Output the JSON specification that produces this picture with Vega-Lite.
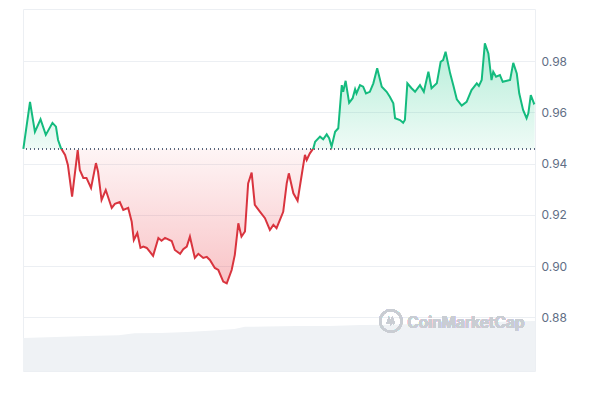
{
  "$schema": "https://vega.github.io/schema/vega-lite/v6.json",
  "width": 512,
  "height": 362,
  "autosize": {"type": "none"},
  "padding": {"left": 23, "top": 9, "right": 65, "bottom": 29},
  "background": "white",
  "config": {
    "view": {"stroke": "#eceff3", "strokeWidth": 1},
    "font": "Inter"
  },
  "datasets": {
    "price": [
      {"t": "2024-05-14T12:58", "p": 0.9457},
      {"t": "2024-05-14T13:17", "p": 0.9641},
      {"t": "2024-05-14T13:31", "p": 0.9524},
      {"t": "2024-05-14T13:47", "p": 0.9573},
      {"t": "2024-05-14T14:02", "p": 0.9512},
      {"t": "2024-05-14T14:21", "p": 0.9559},
      {"t": "2024-05-14T14:31", "p": 0.9544},
      {"t": "2024-05-14T14:37", "p": 0.9492},
      {"t": "2024-05-14T14:45", "p": 0.9461},
      {"t": "2024-05-14T14:57", "p": 0.9434},
      {"t": "2024-05-14T15:05", "p": 0.9395},
      {"t": "2024-05-14T15:17", "p": 0.9271},
      {"t": "2024-05-14T15:33", "p": 0.9453},
      {"t": "2024-05-14T15:39", "p": 0.9375},
      {"t": "2024-05-14T15:49", "p": 0.9344},
      {"t": "2024-05-14T15:58", "p": 0.9344},
      {"t": "2024-05-14T16:11", "p": 0.9305},
      {"t": "2024-05-14T16:25", "p": 0.9402},
      {"t": "2024-05-14T16:31", "p": 0.9368},
      {"t": "2024-05-14T16:41", "p": 0.9258},
      {"t": "2024-05-14T16:53", "p": 0.9297},
      {"t": "2024-05-14T17:10", "p": 0.9227},
      {"t": "2024-05-14T17:19", "p": 0.9243},
      {"t": "2024-05-14T17:33", "p": 0.9250},
      {"t": "2024-05-14T17:43", "p": 0.9219},
      {"t": "2024-05-14T17:57", "p": 0.9227},
      {"t": "2024-05-14T18:07", "p": 0.9173},
      {"t": "2024-05-14T18:13", "p": 0.9102},
      {"t": "2024-05-14T18:23", "p": 0.9129},
      {"t": "2024-05-14T18:32", "p": 0.9071},
      {"t": "2024-05-14T18:40", "p": 0.9076},
      {"t": "2024-05-14T18:50", "p": 0.9071},
      {"t": "2024-05-14T19:08", "p": 0.9040},
      {"t": "2024-05-14T19:23", "p": 0.9110},
      {"t": "2024-05-14T19:32", "p": 0.9099},
      {"t": "2024-05-14T19:42", "p": 0.9110},
      {"t": "2024-05-14T20:01", "p": 0.9098},
      {"t": "2024-05-14T20:10", "p": 0.9063},
      {"t": "2024-05-14T20:25", "p": 0.9048},
      {"t": "2024-05-14T20:34", "p": 0.9066},
      {"t": "2024-05-14T20:44", "p": 0.9076},
      {"t": "2024-05-14T20:53", "p": 0.9115},
      {"t": "2024-05-14T21:07", "p": 0.9032},
      {"t": "2024-05-14T21:17", "p": 0.9048},
      {"t": "2024-05-14T21:31", "p": 0.9032},
      {"t": "2024-05-14T21:41", "p": 0.9036},
      {"t": "2024-05-14T21:50", "p": 0.9024},
      {"t": "2024-05-14T22:04", "p": 0.8993},
      {"t": "2024-05-14T22:14", "p": 0.8985},
      {"t": "2024-05-14T22:28", "p": 0.8940},
      {"t": "2024-05-14T22:38", "p": 0.8933},
      {"t": "2024-05-14T22:52", "p": 0.8985},
      {"t": "2024-05-14T23:01", "p": 0.9044},
      {"t": "2024-05-14T23:11", "p": 0.9167},
      {"t": "2024-05-14T23:20", "p": 0.9115},
      {"t": "2024-05-14T23:30", "p": 0.9135},
      {"t": "2024-05-14T23:39", "p": 0.9323},
      {"t": "2024-05-14T23:49", "p": 0.9365},
      {"t": "2024-05-14T23:58", "p": 0.9239},
      {"t": "2024-05-15T00:13", "p": 0.9212},
      {"t": "2024-05-15T00:27", "p": 0.9187},
      {"t": "2024-05-15T00:41", "p": 0.9141},
      {"t": "2024-05-15T00:51", "p": 0.9161},
      {"t": "2024-05-15T01:00", "p": 0.9148},
      {"t": "2024-05-15T01:19", "p": 0.9212},
      {"t": "2024-05-15T01:29", "p": 0.9323},
      {"t": "2024-05-15T01:35", "p": 0.9362},
      {"t": "2024-05-15T01:48", "p": 0.9284},
      {"t": "2024-05-15T02:00", "p": 0.9255},
      {"t": "2024-05-15T02:14", "p": 0.9375},
      {"t": "2024-05-15T02:21", "p": 0.9434},
      {"t": "2024-05-15T02:26", "p": 0.9414},
      {"t": "2024-05-15T02:35", "p": 0.9440},
      {"t": "2024-05-15T02:45", "p": 0.9460},
      {"t": "2024-05-15T02:50", "p": 0.9485},
      {"t": "2024-05-15T03:04", "p": 0.9505},
      {"t": "2024-05-15T03:13", "p": 0.9495},
      {"t": "2024-05-15T03:23", "p": 0.9514},
      {"t": "2024-05-15T03:30", "p": 0.9499},
      {"t": "2024-05-15T03:37", "p": 0.9466},
      {"t": "2024-05-15T03:47", "p": 0.9524},
      {"t": "2024-05-15T03:56", "p": 0.9538},
      {"t": "2024-05-15T04:06", "p": 0.9706},
      {"t": "2024-05-15T04:10", "p": 0.9680},
      {"t": "2024-05-15T04:17", "p": 0.9723},
      {"t": "2024-05-15T04:27", "p": 0.9637},
      {"t": "2024-05-15T04:37", "p": 0.9655},
      {"t": "2024-05-15T04:44", "p": 0.9690},
      {"t": "2024-05-15T04:48", "p": 0.9674},
      {"t": "2024-05-15T04:58", "p": 0.9706},
      {"t": "2024-05-15T05:07", "p": 0.9700},
      {"t": "2024-05-15T05:15", "p": 0.9674},
      {"t": "2024-05-15T05:26", "p": 0.9680},
      {"t": "2024-05-15T05:36", "p": 0.9713},
      {"t": "2024-05-15T05:47", "p": 0.9772},
      {"t": "2024-05-15T06:00", "p": 0.9700},
      {"t": "2024-05-15T06:14", "p": 0.9680},
      {"t": "2024-05-15T06:23", "p": 0.9661},
      {"t": "2024-05-15T06:33", "p": 0.9635},
      {"t": "2024-05-15T06:38", "p": 0.9577},
      {"t": "2024-05-15T06:52", "p": 0.9570},
      {"t": "2024-05-15T07:01", "p": 0.9559},
      {"t": "2024-05-15T07:06", "p": 0.9570},
      {"t": "2024-05-15T07:13", "p": 0.9713},
      {"t": "2024-05-15T07:25", "p": 0.9694},
      {"t": "2024-05-15T07:35", "p": 0.9680},
      {"t": "2024-05-15T07:49", "p": 0.9706},
      {"t": "2024-05-15T08:00", "p": 0.9680},
      {"t": "2024-05-15T08:13", "p": 0.9758},
      {"t": "2024-05-15T08:22", "p": 0.9694},
      {"t": "2024-05-15T08:37", "p": 0.9713},
      {"t": "2024-05-15T08:48", "p": 0.9797},
      {"t": "2024-05-15T08:55", "p": 0.9804},
      {"t": "2024-05-15T09:02", "p": 0.9836},
      {"t": "2024-05-15T09:15", "p": 0.9752},
      {"t": "2024-05-15T09:24", "p": 0.9706},
      {"t": "2024-05-15T09:34", "p": 0.9651},
      {"t": "2024-05-15T09:48", "p": 0.9626},
      {"t": "2024-05-15T10:02", "p": 0.9641},
      {"t": "2024-05-15T10:16", "p": 0.9687},
      {"t": "2024-05-15T10:31", "p": 0.9713},
      {"t": "2024-05-15T10:37", "p": 0.9703},
      {"t": "2024-05-15T10:45", "p": 0.9726},
      {"t": "2024-05-15T10:54", "p": 0.9869},
      {"t": "2024-05-15T11:04", "p": 0.9830},
      {"t": "2024-05-15T11:13", "p": 0.9726},
      {"t": "2024-05-15T11:18", "p": 0.9758},
      {"t": "2024-05-15T11:26", "p": 0.9739},
      {"t": "2024-05-15T11:37", "p": 0.9745},
      {"t": "2024-05-15T11:45", "p": 0.9719},
      {"t": "2024-05-15T12:06", "p": 0.9726},
      {"t": "2024-05-15T12:15", "p": 0.9793},
      {"t": "2024-05-15T12:25", "p": 0.9752},
      {"t": "2024-05-15T12:32", "p": 0.9674},
      {"t": "2024-05-15T12:43", "p": 0.9609},
      {"t": "2024-05-15T12:53", "p": 0.9577},
      {"t": "2024-05-15T12:58", "p": 0.9596},
      {"t": "2024-05-15T13:05", "p": 0.9667},
      {"t": "2024-05-15T13:14", "p": 0.9635},
      {"t": "2024-05-15T13:16", "p": 0.9638}
    ],
    "volume": [
      {"t": "2024-05-14T12:57", "v": 9.1},
      {"t": "2024-05-14T14:30", "v": 9.4},
      {"t": "2024-05-14T16:00", "v": 9.7},
      {"t": "2024-05-14T17:30", "v": 9.9},
      {"t": "2024-05-14T18:15", "v": 10.4},
      {"t": "2024-05-14T19:30", "v": 10.5},
      {"t": "2024-05-14T20:45", "v": 10.8},
      {"t": "2024-05-14T22:00", "v": 11.2},
      {"t": "2024-05-14T23:00", "v": 11.6},
      {"t": "2024-05-14T23:30", "v": 12.2},
      {"t": "2024-05-15T00:30", "v": 12.3},
      {"t": "2024-05-15T02:00", "v": 12.4},
      {"t": "2024-05-15T03:30", "v": 12.4},
      {"t": "2024-05-15T05:00", "v": 12.7},
      {"t": "2024-05-15T06:30", "v": 12.8},
      {"t": "2024-05-15T08:00", "v": 13.1},
      {"t": "2024-05-15T09:30", "v": 13.3},
      {"t": "2024-05-15T11:00", "v": 13.5},
      {"t": "2024-05-15T12:00", "v": 13.7},
      {"t": "2024-05-15T13:17", "v": 13.8}
    ]
  },
  "resolve": {"scale": {"y": "independent"}},
  "layer": [
    {
      "data": {"name": "volume"},
      "mark": {"type": "area", "color": "#eff2f5", "interpolate": "linear"},
      "encoding": {
        "x": {
          "field": "t", "type": "temporal",
          "scale": {"domain": [{"year": 2024, "month": 5, "date": 14, "hours": 12, "minutes": 57}, {"year": 2024, "month": 5, "date": 15, "hours": 13, "minutes": 17}]},
          "axis": null
        },
        "y": {"field": "v", "type": "quantitative", "scale": {"domain": [0, 100]}, "axis": null}
      }
    },
    {
      "data": {"name": "price"},
      "encoding": {
        "x": {
          "field": "t", "type": "temporal",
          "scale": {"domain": [{"year": 2024, "month": 5, "date": 14, "hours": 12, "minutes": 57}, {"year": 2024, "month": 5, "date": 15, "hours": 13, "minutes": 17}]},
          "axis": {
            "title": null,
            "values": [
              {"year": 2024, "month": 5, "date": 14, "hours": 20},
              {"year": 2024, "month": 5, "date": 15, "hours": 0},
              {"year": 2024, "month": 5, "date": 15, "hours": 5},
              {"year": 2024, "month": 5, "date": 15, "hours": 9},
              {"year": 2024, "month": 5, "date": 15, "hours": 13}
            ],
            "labelExpr": "hours(datum.value) == 0 ? timeFormat(datum.value, '%-d %b') : timeFormat(datum.value, '%-I:%M %p')",
            "grid": false, "domain": false, "ticks": false,
            "labelPadding": 16, "labelFontSize": 12, "labelColor": "#616e85", "labelFont": "Inter"
          }
        },
        "y": {
          "field": "p", "type": "quantitative",
          "scale": {"domain": [0.8591, 1.0003], "zero": false, "nice": false},
          "axis": {
            "orient": "right", "title": null,
            "values": [0.88, 0.9, 0.92, 0.94, 0.96, 0.98],
            "format": ".2f",
            "grid": true, "gridColor": "#eceff3", "gridWidth": 1,
            "domain": false, "ticks": false,
            "labelPadding": 6, "labelFontSize": 12, "labelColor": "#616e85", "labelFont": "Inter"
          }
        }
      },
      "layer": [
        {
          "mark": {
            "type": "area",
            "fill": {
              "gradient": "linear", "x1": 0, "y1": 0, "x2": 0, "y2": 1,
              "stops": [
                {"offset": 0, "color": "rgba(22,199,132,0.32)"},
                {"offset": 0.4402, "color": "rgba(22,199,132,0.07)"},
                {"offset": 0.4402, "color": "rgba(234,57,67,0.05)"},
                {"offset": 1, "color": "rgba(234,57,67,0.30)"}
              ]
            }
          },
          "encoding": {"y2": {"datum": 0.9457}}
        },
        {
          "mark": {"type": "rule", "color": "#58667e", "strokeDash": [1, 3], "strokeWidth": 1},
          "encoding": {"x": null, "y": {"datum": 0.9457}}
        },
        {
          "mark": {
            "type": "line", "strokeWidth": 2,
            "stroke": {
              "gradient": "linear", "x1": 0, "y1": 0, "x2": 0, "y2": 1,
              "stops": [
                {"offset": 0, "color": "#14bb7e"},
                {"offset": 0.4402, "color": "#14bb7e"},
                {"offset": 0.4402, "color": "#d9343e"},
                {"offset": 1, "color": "#d9343e"}
              ]
            }
          },
          "encoding": {}
        },
        {
          "mark": {"type": "text", "text": "CoinMarketCap", "fontSize": 15.5, "font": "Inter", "fontWeight": 600, "color": "#c9cdd3", "align": "center", "baseline": "middle"},
          "encoding": {
            "x": {"datum": {"year": 2024, "month": 5, "date": 15, "hours": 10, "minutes": 0}},
            "y": {"datum": 0.8778}
          }
        },
        {
          "mark": {"type": "point", "shape": "circle", "filled": false, "size": 460, "strokeWidth": 2, "color": "#c9cdd3"},
          "encoding": {
            "x": {"datum": {"year": 2024, "month": 5, "date": 15, "hours": 6, "minutes": 26}},
            "y": {"datum": 0.8786}
          }
        },
        {
          "mark": {"type": "point", "shape": "M -0.38 0.28 L -0.22 -0.22 L -0.02 0.22 L 0.16 -0.22 L 0.32 0.18 L 0.42 0.1", "filled": false, "size": 300, "strokeWidth": 2, "color": "#c9cdd3"},
          "encoding": {
            "x": {"datum": {"year": 2024, "month": 5, "date": 15, "hours": 6, "minutes": 26}},
            "y": {"datum": 0.8786}
          }
        }
      ]
    }
  ]
}
